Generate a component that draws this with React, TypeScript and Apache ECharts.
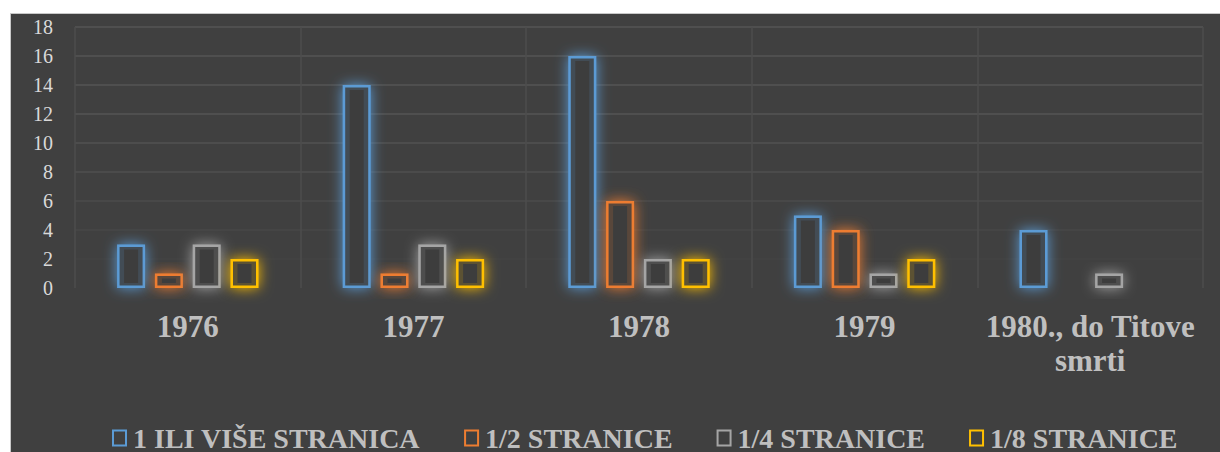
import React, { useEffect, useRef } from "react";
import * as echarts from "echarts";

const categories = ["1976", "1977", "1978", "1979", "1980., do Titove\nsmrti"];
const seriesNames = ["1 ILI VIŠE STRANICA", "1/2 STRANICE", "1/4 STRANICE", "1/8 STRANICE"];
const onePlus = [3, 14, 16, 5, 4];
const half = [1, 1, 6, 4, null];
const quarter = [3, 3, 2, 1, 1];
const eighth = [2, 2, 2, 2, null];
const colors = ["#5b9bd5", "#ed7d31", "#a5a5a5", "#ffc000"];
const rgb = ["91,155,213", "237,125,49", "165,165,165", "255,192,0"];
const yTicks = { min: 0, max: 18, interval: 2 };

const SERIF = "'Liberation Serif', 'Times New Roman', serif";

export default function App() {
  const ref = useRef<HTMLDivElement>(null);
  useEffect(() => {
    const chart = echarts.init(ref.current!, null, { renderer: "svg" });
    const values = [onePlus, half, quarter, eighth];
    const barWidth = 28;
    const barGap = "35%";
    chart.setOption({
      animation: false,
      backgroundColor: "#ffffff",
      graphic: [
        {
          type: "rect",
          z: -10,
          silent: true,
          shape: { x: 10.5, y: 13.5, width: 1220, height: 450 },
          style: { fill: "#404040", stroke: "#c8c8c8", lineWidth: 1 },
        },
      ],
      grid: { left: 75, right: 17, top: 27, bottom: 164, containLabel: false },
      legend: {
        top: 418,
        left: 107,
        icon: "rect",
        itemWidth: 13,
        itemHeight: 15,
        itemGap: 44,
        itemStyle: { shadowBlur: 0, color: "#404040" },
        textStyle: {
          color: "#bfbfbf",
          fontFamily: SERIF,
          fontWeight: "bold",
          fontSize: 28,
          lineHeight: 30,
          padding: [0, 0, 0, 2],
        },
        data: seriesNames,
      },
      xAxis: [
        {
          type: "category",
          data: categories,
          axisLine: { show: false },
          axisTick: { show: false },
          axisLabel: {
            color: "#bfbfbf",
            fontFamily: SERIF,
            fontWeight: "bold",
            fontSize: 31,
            lineHeight: 34,
            margin: 21,
            interval: 0,
          },
          splitLine: {
            show: true,
            lineStyle: { width: 1.5, color: "#4d4d4d" },
          },
        },
        { type: "category", data: categories, show: false },
        { type: "category", data: categories, show: false },
      ],
      yAxis: {
        type: "value",
        min: yTicks.min,
        max: yTicks.max,
        interval: yTicks.interval,
        axisLine: { show: false },
        axisTick: { show: false },
        axisLabel: {
          color: "#d9d9d9",
          fontFamily: SERIF,
          fontSize: 20,
          margin: 22,
        },
        splitLine: {
          show: true,
          lineStyle: {
            width: 1.5,
            color: [
              "#404040",
              "#434343",
              "#474747",
              "#4b4b4b",
              "#4f4f4f",
              "#525252",
              "#545454",
              "#545454",
              "#545454",
              "#545454",
            ],
          },
        },
      },
      series: [
        ...seriesNames.map((name, i) => ({
          name: name + " vanjski",
          type: "bar",
          xAxisIndex: 2,
          data: values[i],
          barWidth,
          barGap,
          silent: true,
          z: 1,
          itemStyle: {
            color: "rgba(0,0,0,0)",
            borderColor: `rgba(${rgb[i]},0.2)`,
            borderWidth: 8,
          },
        })),
        ...seriesNames.map((name, i) => ({
          name,
          type: "bar",
          xAxisIndex: 0,
          data: values[i],
          barWidth,
          barGap,
          z: 2,
          itemStyle: {
            color: "#3e3e3e",
            borderColor: colors[i],
            borderWidth: 2.5,
            shadowBlur: 14,
            shadowColor: `rgba(${rgb[i]},1)`,
          },
        })),
        ...seriesNames.map((name, i) => ({
          name: name + " sjaj",
          type: "bar",
          xAxisIndex: 1,
          data: values[i],
          barWidth: barWidth - 4,
          barGap: "57.5%",
          silent: true,
          z: 3,
          itemStyle: {
            color: "rgba(0,0,0,0)",
            borderColor: `rgba(${rgb[i]},0.16)`,
            borderWidth: 5,
          },
        })),
      ],
    });
    return () => chart.dispose();
  }, []);
  return (
    <div
      ref={ref}
      style={{ position: "absolute", left: 0, top: 0, width: 1220, height: 452 }}
    />
  );
}
